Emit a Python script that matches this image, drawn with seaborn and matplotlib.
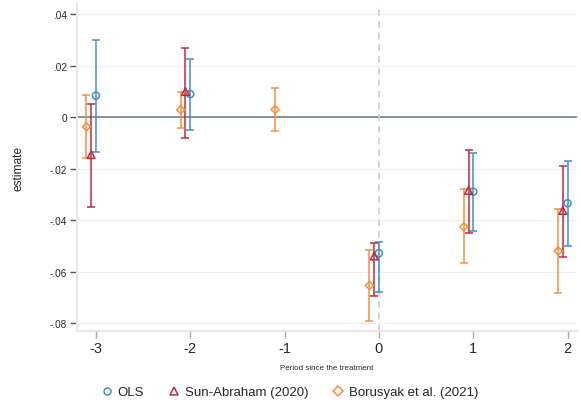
from matplotlib import pyplot as plt
from matplotlib.lines import Line2D
import pandas as pd
import seaborn as sns

# event-study estimates
periods_ols = [-3, -2, 0, 1, 2]
ols_est = [0.0083, 0.0089, -0.0529, -0.0290, -0.0335]
ols_lo = [-0.0135, -0.0049, -0.0680, -0.0441, -0.0501]
ols_hi = [0.0299, 0.0225, -0.0485, -0.0141, -0.0172]

periods_sa = [-3, -2, 0, 1, 2]
sa_est = [-0.0146, 0.0099, -0.0540, -0.0285, -0.0363]
sa_lo = [-0.0348, -0.0080, -0.0695, -0.0451, -0.0543]
sa_hi = [0.0049, 0.0268, -0.0489, -0.0127, -0.0192]

periods_bjs = [-3, -2, -1, 0, 1, 2]
bjs_est = [-0.0038, 0.0028, 0.0029, -0.0654, -0.0426, -0.0520]
bjs_lo = [-0.0159, -0.0044, -0.0055, -0.0792, -0.0568, -0.0683]
bjs_hi = [0.0084, 0.0098, 0.0114, -0.0517, -0.0281, -0.0358]

xtick_vals = [-3, -2, -1, 0, 1, 2]
xtick_labels = ["-3", "-2", "-1", "0", "1", "2"]
ytick_vals = [0.04, 0.02, 0, -0.02, -0.04, -0.06, -0.08]
ytick_labels = [".04", ".02", "0", "-.02", "-.04", "-.06", "-.08"]

frames = []
for name, p, e, lo, hi in [
    ("OLS", periods_ols, ols_est, ols_lo, ols_hi),
    ("Sun-Abraham (2020)", periods_sa, sa_est, sa_lo, sa_hi),
    ("Borusyak et al. (2021)", periods_bjs, bjs_est, bjs_lo, bjs_hi),
]:
    frames.append(pd.DataFrame({"period": p, "estimate": e, "lo": lo, "hi": hi, "model": name}))
df = pd.concat(frames, ignore_index=True)

# styling per estimator
colors = {"OLS": "#3f8fc6", "Sun-Abraham (2020)": "#c0283f", "Borusyak et al. (2021)": "#f78f36"}
markers = {"OLS": "o", "Sun-Abraham (2020)": "^", "Borusyak et al. (2021)": "D"}
msize = {"OLS": 26, "Sun-Abraham (2020)": 30, "Borusyak et al. (2021)": 17}
leg_size = {"OLS": 5, "Sun-Abraham (2020)": 5.8, "Borusyak et al. (2021)": 4.6}
shift = {"OLS": 0.0, "Sun-Abraham (2020)": -0.05, "Borusyak et al. (2021)": -0.1}

sns.set_style("white")
plt.rcParams["font.family"] = ["Liberation Sans", "DejaVu Sans"]

fig = plt.figure(figsize=(5.81, 4.06), dpi=100)
ax = fig.add_axes([77 / 581, 1 - 332 / 406, 500 / 581, 327 / 406])

for y in ytick_vals:
    ax.axhline(y, color="#efefef", lw=0.8, zorder=0)
ax.axhline(0, color="#6e7f98", lw=1.2, zorder=1)
ax.axvline(0, color="#cccccc", lw=1.2, ls=(0, (4, 3)), zorder=1)

for name in colors:
    sub = df[df["model"] == name]
    xs = sub["period"] + shift[name]
    ax.errorbar(xs, sub["estimate"],
                yerr=[sub["estimate"] - sub["lo"], sub["hi"] - sub["estimate"]],
                fmt="none", ecolor=colors[name], elinewidth=1.1,
                capsize=3.2, capthick=1.1, zorder=2)
    sns.scatterplot(x=xs, y=sub["estimate"], ax=ax, color=colors[name],
                    marker=markers[name], s=msize[name], facecolor="none",
                    edgecolor=colors[name], linewidth=1.1, zorder=3)

ax.set_xlim(-3.2, 2.1)
ax.set_ylim(-0.0831, 0.0439)
ax.set_xticks(xtick_vals)
ax.set_xticklabels(xtick_labels)
ax.set_yticks(ytick_vals)
ax.set_yticklabels(ytick_labels)
ax.tick_params(axis="y", left=True, length=5, width=1, color="#555555", labelsize=7.2, pad=2)
ax.tick_params(axis="x", bottom=True, length=5, width=1, color="#aaaaaa", labelsize=10.5, pad=2)

for s in ["top", "right"]:
    ax.spines[s].set_visible(False)
for s in ["left", "bottom"]:
    ax.spines[s].set_color("#eee3e6")
    ax.spines[s].set_linewidth(1.5)

ax.set_xlabel("Period since the treatment", fontsize=5.8, labelpad=7)
ax.set_ylabel("estimate", fontsize=8.6)
ax.yaxis.set_label_coords(-0.106, 0.5)

handles = [Line2D([], [], ls="none", marker=markers[n], markersize=leg_size[n],
                  markerfacecolor="none", markeredgecolor=colors[n], markeredgewidth=1.1)
           for n in colors]
fig.legend(handles, list(colors), loc="center", bbox_to_anchor=(0.5, 1 - 393 / 406),
           ncol=3, frameon=False, fontsize=9.5, handlelength=0.6, handletextpad=0.5,
           columnspacing=2.0)

fig.savefig("out.png", dpi=100)
